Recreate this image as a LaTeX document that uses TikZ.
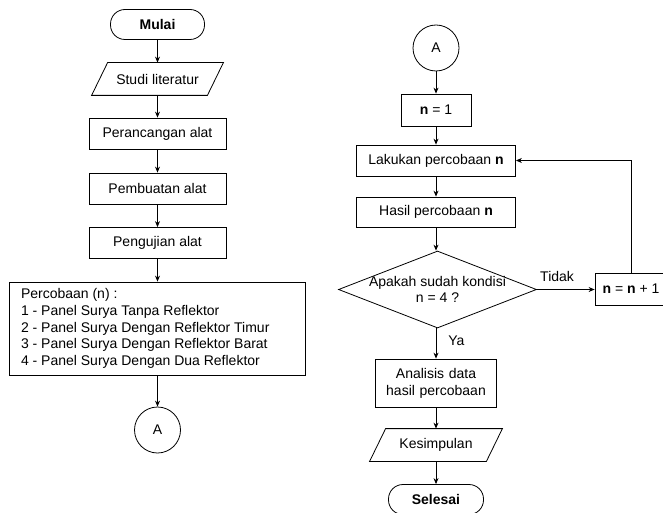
\documentclass[tikz,border=0pt]{standalone}
\usepackage{fontspec}
\setmainfont{Liberation Sans}
\usetikzlibrary{shapes.geometric,arrows.meta}
\begin{document}
\begin{tikzpicture}[x=1pt,y=-1pt,
  font=\fontsize{14}{16.8}\selectfont,
  line width=0.8pt,
  proc/.style={draw,rectangle,minimum height=31pt,inner sep=0pt,align=center},
  term/.style={draw,rectangle,rounded corners=14.5pt,minimum width=94pt,minimum height=30pt,inner sep=0pt,font=\fontsize{14}{16.8}\selectfont\bfseries},
  iobox/.style={rectangle,minimum width=115pt,minimum height=32pt,inner sep=0pt},
  conn/.style={draw,circle,minimum size=46pt,inner sep=0pt},
  dec/.style={draw,diamond,minimum width=198pt,minimum height=77pt,inner sep=0pt},
  arr/.style={-{Stealth[length=6pt,width=5pt]}},
  lbl/.style={inner sep=0pt}]
\useasboundingbox (0,0) rectangle (663,513);
\begin{scope}
\clip (0,0) rectangle (663,513);
% left column
\node[term] (mulai) at (157.5,24.5) {Mulai};
\node[iobox] (studi) at (157.5,79) {Studi literatur};
\draw ([xshift=8pt]studi.north west) -- ([xshift=8pt]studi.north east) -- ([xshift=-8pt]studi.south east) -- ([xshift=-8pt]studi.south west) -- cycle;
\node[proc,minimum width=137pt] (rancang) at (157.5,133.5) {Perancangan alat};
\node[proc,minimum width=137pt] (buat) at (157.5,188.5) {Pembuatan alat};
\node[proc,minimum width=137pt] (uji) at (157.5,243) {Pengujian alat};
\node[draw,rectangle,minimum width=296pt,minimum height=93pt,inner sep=0pt] (perc) at (157,328.5) {};
\node[align=left,anchor=west,inner sep=0pt] (perctext) at ([xshift=12pt]perc.west) {Percobaan (n) :\\1 - Panel Surya Tanpa Reflektor\\2 - Panel Surya Dengan Reflektor Timur\\3 - Panel Surya Dengan Reflektor Barat\\4 - Panel Surya Dengan Dua Reflektor};
\node[conn] (a1) at (157.5,430) {A};
\draw[arr] (mulai) -- (studi.north);
\draw[arr] (studi.south) -- (rancang);
\draw[arr] (rancang) -- (buat);
\draw[arr] (buat) -- (uji);
\draw[arr] (uji) -- (uji.south |- perc.north);
\draw[arr] (a1.north |- perc.south) -- (a1);
% right column
\node[conn] (a2) at (436,48) {A};
\node[proc,minimum width=70pt,minimum height=32pt] (n1) at (436,110) {\textbf{n} = 1};
\node[proc,minimum width=159pt] (lak) at (436,160.5) {Lakukan percobaan \textbf{n}};
\node[proc,minimum width=159pt,minimum height=30pt] (has) at (436,212) {Hasil percobaan \textbf{n}};
\node[dec] (dec) at (437.5,289.5) {};
\node[align=center,inner sep=0pt] (dectext) at (dec.center) {Apakah sudah kondisi\\n = 4 ?};
\node[proc,minimum width=72pt,minimum height=32pt] (inc) at (631,289) {\textbf{n} = \textbf{n} + 1};
\node[proc,minimum width=121pt,minimum height=48pt,text width=115pt] (ana) at (436,383) {Analisis data\\hasil percobaan};
\node[iobox,minimum width=116pt] (kes) at (436,445) {Kesimpulan};
\draw ([xshift=8pt]kes.north west) -- ([xshift=8pt]kes.north east) -- ([xshift=-8pt]kes.south east) -- ([xshift=-8pt]kes.south west) -- cycle;
\node[term,minimum width=95pt] (sel) at (436,499.5) {Selesai};
\draw[arr] (a2) -- (n1);
\draw[arr] (n1) -- (lak);
\draw[arr] (lak) -- (has);
\draw[arr] (has) -- (has.south |- dec.north);
\draw[arr] (dec.south -| ana.north) -- (ana) node[lbl,pos=0.4,right=12pt] (ya) {Ya};
\draw[arr] (dec.east) -- (inc.west |- dec.east) node[lbl,pos=0.35,above=7pt] (tidak) {Tidak};
\draw[arr] (inc.north) |- (lak.east);
\draw[arr] (ana) -- (kes.north);
\draw[arr] (kes.south) -- (sel);
\end{scope}
\end{tikzpicture}
\end{document}
